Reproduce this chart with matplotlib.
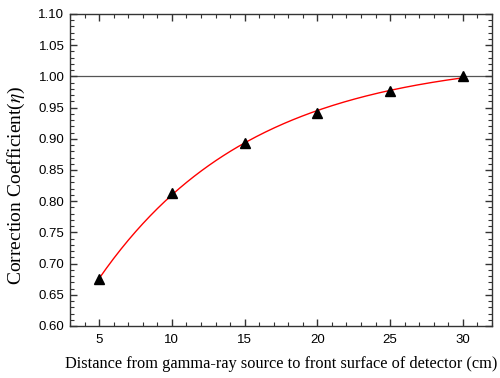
import numpy as np
import matplotlib.pyplot as plt
from matplotlib.ticker import MultipleLocator

plt.rcParams['mathtext.fontset'] = 'stix'

distance = [5, 10, 15, 20, 25, 30]
coefficient = [0.675, 0.813, 0.893, 0.942, 0.977, 1.000]

x = np.array(distance, dtype=float)
y = np.array(coefficient)

# Exponential fit y = a - b*exp(-x/t), t by scan, a and b by least squares
best = None
for t in np.linspace(2, 40, 761):
    A = np.column_stack([np.ones_like(x), -np.exp(-x / t)])
    coef, res, _, _ = np.linalg.lstsq(A, y, rcond=None)
    err = np.sum((A @ coef - y) ** 2)
    if best is None or err < best[0]:
        best = (err, t, coef)
_, t_fit, (a_fit, b_fit) = best
xs = np.linspace(5, 30, 200)
ys = a_fit - b_fit * np.exp(-xs / t_fit)

fig = plt.figure(figsize=(5, 3.78), dpi=100)
ax = fig.add_axes([0.14, 0.1376, 0.844, 0.8254])

ax.axhline(1.0, color='#555555', linewidth=0.9, zorder=1)
ax.plot(xs, ys, color='red', linewidth=1.0, zorder=2)
ax.plot(x, y, linestyle='none', marker='^', color='black', markersize=7.5, zorder=3)

ax.set_xlim(3, 32)
ax.set_ylim(0.60, 1.10)
ax.xaxis.set_major_locator(MultipleLocator(5))
ax.xaxis.set_minor_locator(MultipleLocator(1))
ax.yaxis.set_major_locator(MultipleLocator(0.05))
ax.yaxis.set_minor_locator(MultipleLocator(0.01))
ax.yaxis.set_major_formatter(plt.FormatStrFormatter('%.2f'))

ax.tick_params(which='both', direction='in', top=True, right=True, color='#333333')
ax.tick_params(which='major', length=5, width=1.0, labelsize=9.5, pad=4)
ax.tick_params(axis='x', which='major', pad=6)
ax.tick_params(which='minor', length=3, width=0.8)
for lab in ax.get_xticklabels() + ax.get_yticklabels():
    lab.set_family('Liberation Sans')
for sp in ax.spines.values():
    sp.set_linewidth(1.0)
    sp.set_color('#333333')

ax.set_xlabel('Distance from gamma-ray source to front surface of detector (cm)',
              family='Liberation Serif', fontsize=11.8, labelpad=7)
ax.set_ylabel('Correction Coefficient($\\eta$)', family='Liberation Serif',
              fontsize=14)
ax.yaxis.set_label_coords(-0.103, 0.45)

fig.savefig('out.png', dpi=100)
